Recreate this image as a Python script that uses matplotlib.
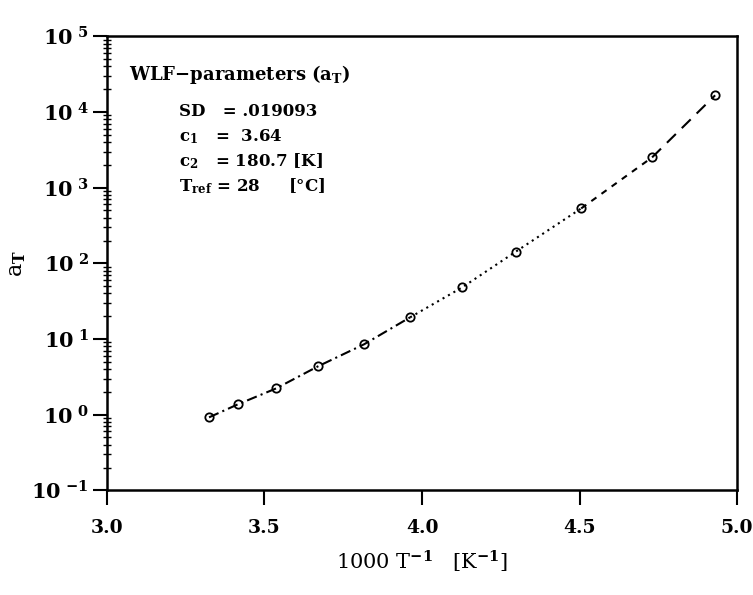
import matplotlib
matplotlib.use("Agg")
import matplotlib.pyplot as plt
from matplotlib.ticker import LogLocator, NullFormatter, FixedLocator
import numpy as np

# data: 1000/T [1/K] and shift factor a_T
inv_temp = [3.324, 3.416, 3.537, 3.670, 3.816, 3.962, 4.127, 4.298, 4.505, 4.730, 4.930]
a_t = [0.92, 1.37, 2.22, 4.35, 8.5, 19.3, 47.9, 143.0, 531.0, 2510.0, 16600.0]

# the fitted curve changes line style along its length
segments = [(0, 5, (0, (5, 2, 1, 2))), (5, 8, (0, (1, 2))), (8, 9, (0, (3, 3))), (9, 10, (0, (6, 4)))]

x_ticks = [3.0, 3.5, 4.0, 4.5, 5.0]
x_labels = ["3.0", "3.5", "4.0", "4.5", "5.0"]
y_exps = [-1, 0, 1, 2, 3, 4, 5]

plt.rcParams["font.family"] = "DejaVu Serif"
plt.rcParams["font.weight"] = "bold"
plt.rcParams["mathtext.fontset"] = "dejavuserif"
plt.rcParams["mathtext.default"] = "bf"

fig = plt.figure(figsize=(7.53, 5.95), dpi=100)
ax = fig.add_axes([0.142, 0.176, 0.837, 0.763])

for i0, i1, ls in segments:
    ax.plot(inv_temp[i0:i1 + 1], a_t[i0:i1 + 1], color="black", lw=1.5, linestyle=ls)
ax.plot(inv_temp, a_t, linestyle="none", marker="o", ms=6, mfc="none", mec="black", mew=1.3)

ax.set_yscale("log")
ax.set_xlim(3.0, 5.0)
ax.set_ylim(1e-1, 1e5)

ax.xaxis.set_major_locator(FixedLocator(x_ticks))
ax.set_xticklabels(x_labels, fontsize=13.5, fontweight="bold")
ax.yaxis.set_major_locator(FixedLocator([10.0 ** e for e in y_exps]))
ax.set_yticklabels(["$10^{\\ \\mathregular{%d}}$" % e for e in y_exps], fontsize=15)
ax.yaxis.set_minor_locator(LogLocator(base=10, subs=np.arange(2, 10), numticks=20))
ax.yaxis.set_minor_formatter(NullFormatter())

ax.tick_params(axis="x", which="major", direction="out", length=11, width=1.5, pad=10)
ax.tick_params(axis="y", which="major", direction="out", length=10, width=1.5, pad=3)
ax.tick_params(axis="y", which="minor", direction="inout", length=6, width=1.0)
ax.tick_params(top=False, right=False)
for side in ax.spines.values():
    side.set_linewidth(1.8)

ax.set_ylabel(r"a$_T$", fontsize=16)
ax.yaxis.set_label_coords(-0.125, 0.5)
ax.set_xlabel(r"1000 T$^{-1}$   [K$^{-1}$]", fontsize=15, labelpad=8)

ax.text(0.035, 0.915, r"WLF$-$parameters (a$_T$)", transform=ax.transAxes,
        fontsize=13, fontweight="bold", va="center")
params = ["SD   = .019093", "c$_1$   =  3.64", "c$_2$   = 180.7 [K]", "T$_{ref}$ = 28     [\u00b0C]"]
for k, line in enumerate(params):
    ax.text(0.115, 0.835 - k * 0.055, line, transform=ax.transAxes,
            fontsize=12, fontweight="bold", va="center")

fig.savefig("out.png", dpi=100)
